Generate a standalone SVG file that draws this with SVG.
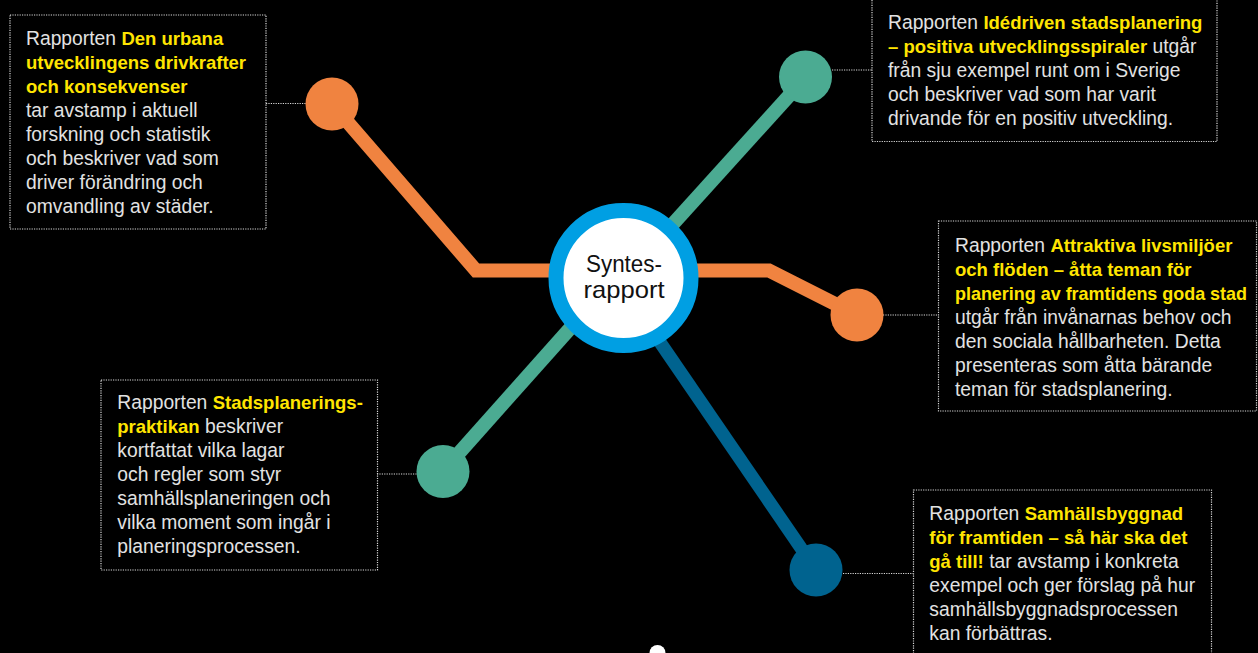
<svg xmlns="http://www.w3.org/2000/svg" width="1258" height="653" viewBox="0 0 1258 653">
<style>
.bg{fill:#000}
.box{fill:none;stroke:#d8d8d8;stroke-width:1.2;stroke-dasharray:1.2 1.2}
.dot{fill:none;stroke:#d8d8d8;stroke-width:1.2;stroke-dasharray:1.2 1.2}
.t{font-family:"Liberation Sans",Arial,sans-serif;font-size:19.3px;fill:#e2e2e2}
.b{font-weight:bold;fill:#ffe500;font-size:18.5px}
.or{stroke:#f08340;stroke-width:14;fill:none;stroke-linejoin:miter}
.te{stroke:#4bab92;stroke-width:14;fill:none}
.db{stroke:#00638f;stroke-width:13;fill:none}
.c{font-family:"Liberation Sans",Arial,sans-serif;font-size:24px;fill:#111;text-anchor:middle}
</style>
<rect class="bg" x="0" y="0" width="1258" height="653"/>
<g id="connectors">
  <polyline class="or" points="332,104 476,270.5 624,270.5"/>
  <polyline class="or" points="624,270.5 769,270.5 857,315"/>
  <line class="te" x1="806" y1="77" x2="624" y2="278"/>
  <line class="te" x1="443" y1="471" x2="615" y2="278"/>
  <line class="db" x1="816" y1="570" x2="616" y2="278"/>
  <line class="dot" x1="266" y1="103.5" x2="306" y2="103.5"/>
  <line class="dot" x1="832" y1="70" x2="872" y2="70"/>
  <line class="dot" x1="883" y1="315" x2="938" y2="315"/>
  <line class="dot" x1="377" y1="474" x2="417" y2="474"/>
  <line class="dot" x1="843" y1="573.5" x2="913" y2="573.5"/>
</g>
<g id="hub">
  <circle cx="623.5" cy="278" r="67.5" fill="#fff" stroke="#009fe3" stroke-width="15"/>
  <text class="c" x="624" y="272" textLength="76" lengthAdjust="spacingAndGlyphs">Syntes-</text>
  <text class="c" x="624" y="298" textLength="81" lengthAdjust="spacingAndGlyphs">rapport</text>
</g>
<g id="dot1"><circle cx="332" cy="104" r="26.5" fill="#f08340"/></g>
<g id="dot2"><circle cx="805.5" cy="77" r="26.5" fill="#4bab92"/></g>
<g id="dot3"><circle cx="857" cy="315" r="26.5" fill="#f08340"/></g>
<g id="dot4"><circle cx="443" cy="471.5" r="26.5" fill="#4bab92"/></g>
<g id="dot5"><circle cx="816" cy="570" r="26.5" fill="#00638f"/></g>
<g id="bump"><circle cx="657.5" cy="653" r="8" fill="#fff"/></g>
<g id="box1">
  <rect class="box" x="10" y="15" width="256" height="214"/>
  <text class="t" x="26" y="45">Rapporten <tspan class="b">Den urbana</tspan></text>
  <text class="t b" x="26" y="69">utvecklingens drivkrafter</text>
  <text class="t b" x="26" y="93">och konsekvenser</text>
  <text class="t" x="26" y="117">tar avstamp i aktuell</text>
  <text class="t" x="26" y="141">forskning och statistik</text>
  <text class="t" x="26" y="165">och beskriver vad som</text>
  <text class="t" x="26" y="189">driver förändring och</text>
  <text class="t" x="26" y="213">omvandling av städer.</text>
</g>
<g id="box2">
  <rect class="box" x="872" y="-5" width="345" height="146.5"/>
  <text class="t" x="888" y="29.3">Rapporten <tspan class="b">Idédriven stadsplanering</tspan></text>
  <text class="t" x="888" y="53.3"><tspan class="b">– positiva utvecklingsspiraler</tspan> utgår</text>
  <text class="t" x="888" y="77.3">från sju exempel runt om i Sverige</text>
  <text class="t" x="888" y="101.3">och beskriver vad som har varit</text>
  <text class="t" x="888" y="125.3">drivande för en positiv utveckling.</text>
</g>
<g id="box3">
  <rect class="box" x="938.5" y="221" width="318" height="190"/>
  <text class="t" x="955" y="251.7">Rapporten <tspan class="b">Attraktiva livsmiljöer</tspan></text>
  <text class="t b" x="955" y="275.7">och flöden – åtta teman för</text>
  <text class="t b" x="955" y="299.7" textLength="292" lengthAdjust="spacingAndGlyphs">planering av framtidens goda stad</text>
  <text class="t" x="955" y="323.7">utgår från invånarnas behov och</text>
  <text class="t" x="955" y="347.7">den sociala hållbarheten. Detta</text>
  <text class="t" x="955" y="371.7">presenteras som åtta bärande</text>
  <text class="t" x="955" y="395.7">teman för stadsplanering.</text>
</g>
<g id="box4">
  <rect class="box" x="101" y="380" width="276.5" height="190"/>
  <text class="t" x="117.3" y="409.3">Rapporten <tspan class="b">Stadsplanerings-</tspan></text>
  <text class="t" x="117.3" y="433.3"><tspan class="b">praktikan</tspan> beskriver</text>
  <text class="t" x="117.3" y="457.3">kortfattat vilka lagar</text>
  <text class="t" x="117.3" y="481.3">och regler som styr</text>
  <text class="t" x="117.3" y="505.3">samhällsplaneringen och</text>
  <text class="t" x="117.3" y="529.3">vilka moment som ingår i</text>
  <text class="t" x="117.3" y="553.3">planeringsprocessen.</text>
</g>
<g id="box5">
  <rect class="box" x="913.5" y="490" width="298" height="175"/>
  <text class="t" x="929.3" y="520">Rapporten <tspan class="b">Samhällsbyggnad</tspan></text>
  <text class="t b" x="929.3" y="543.9">för framtiden – så här ska det</text>
  <text class="t" x="929.3" y="567.8"><tspan class="b">gå till!</tspan> tar avstamp i konkreta</text>
  <text class="t" x="929.3" y="591.7">exempel och ger förslag på hur</text>
  <text class="t" x="929.3" y="615.6">samhällsbyggnadsprocessen</text>
  <text class="t" x="929.3" y="639.5">kan förbättras.</text>
</g>
</svg>
